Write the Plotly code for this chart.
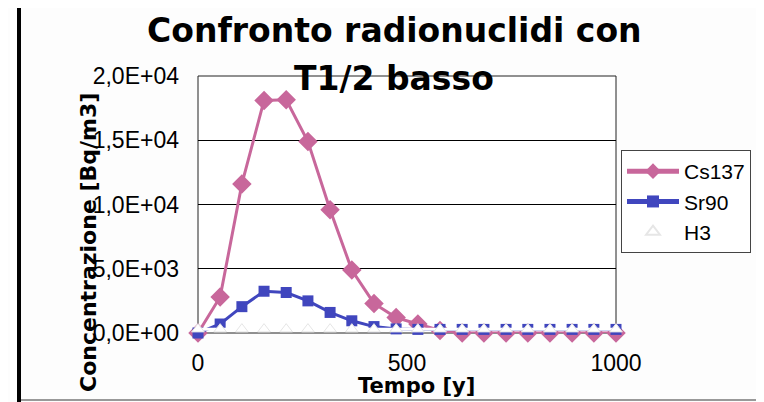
import plotly.graph_objects as go

# ---- data ----
years = [0, 53, 105, 158, 211, 263, 316, 368, 421, 474, 526, 579, 632, 684, 737, 789, 842, 895, 947, 1000]
cs137 = [0, 2800, 11600, 18100, 18150, 14900, 9600, 4900, 2300, 1200, 700, 200, 0, 0, 0, 0, 0, 0, 0, 0]
sr90 = [0, 700, 2050, 3250, 3150, 2500, 1600, 950, 500, 320, 280, 280, 280, 280, 280, 280, 280, 280, 280, 280]
h3 = [300] * 20
y_tickvals = [0, 5000, 10000, 15000, 20000]
y_ticktext = ["0,0E+00", "5,0E+03", "1,0E+04", "1,5E+04", "2,0E+04"]
x_tickvals = [0, 500, 1000]
x_ticktext = ["0", "500", "1000"]

# page has an 8px body margin: design in reference pixel coords, shift by -8
O = 8
W, H = 764 - O, 402 - O
PL, PR, PT, PB = 198, 616, 76, 333      # plot area in reference pixels
L, T = PL - O, PT - O
R = W - (PR - O)
B = H - (PB - O)
pw, ph = PR - PL, PB - PT

def px(xp):
    return (xp - PL) / pw

def py(yp):
    return (PB - yp) / ph

fig = go.Figure()
fig.add_trace(go.Scatter(x=years, y=cs137, name="Cs137", mode="lines+markers",
                         line=dict(color="#C8679B", width=3),
                         marker=dict(symbol="diamond", size=15, color="#C8679B"),
                         cliponaxis=False))
fig.add_trace(go.Scatter(x=years, y=sr90, name="Sr90", mode="lines+markers",
                         line=dict(color="#4046BE", width=3),
                         marker=dict(symbol="square", size=11, color="#4046BE"),
                         cliponaxis=False))
fig.add_trace(go.Scatter(x=years, y=h3, name="H3", mode="lines+markers",
                         line=dict(color="#FFFFFF", width=3),
                         marker=dict(symbol="triangle-up", size=11, color="#FFFFFF",
                                     line=dict(color="#E6E6E6", width=1)),
                         cliponaxis=False))

tick_font = dict(family="Liberation Sans", size=23, color="#000")
fig.update_layout(
    width=W, height=H,
    margin=dict(l=L, r=R, t=T, b=B),
    paper_bgcolor="#FDFDFD", plot_bgcolor="#FFFFFF",
    showlegend=True,
    legend=dict(x=px(621), y=py(150), xanchor="left", yanchor="top",
                bordercolor="#444", borderwidth=1, bgcolor="#FFFFFF",
                font=dict(family="Liberation Sans", size=21, color="#000"),
                tracegroupgap=0, itemwidth=52, itemsizing="constant"),
    xaxis=dict(range=[0, 1000], tickvals=x_tickvals, ticktext=x_ticktext,
               showgrid=False, zeroline=False, showline=False, ticks="",
               tickfont=tick_font, ticklabelstandoff=14),
    yaxis=dict(range=[0, 20000], tickvals=y_tickvals, ticktext=y_ticktext,
               showgrid=True, gridcolor="#000", gridwidth=1, zeroline=False,
               showline=False, ticks="", tickfont=tick_font, ticklabelstandoff=18),
    shapes=[
        dict(type="rect", xref="paper", yref="paper", x0=0, x1=1, y0=0, y1=1,
             line=dict(color="#222", width=1), layer="below"),
        dict(type="rect", xref="paper", yref="paper", x0=px(17), x1=px(21),
             y0=py(402), y1=py(0), fillcolor="#000", line=dict(width=0)),
        dict(type="line", xref="paper", yref="paper", x0=px(21), x1=px(764),
             y0=py(400), y1=py(400), line=dict(color="#999", width=2)),
    ],
    annotations=[
        dict(text="<b>Confronto radionuclidi con</b>", xref="paper", yref="paper",
             x=px(394), y=py(31), xanchor="center", yanchor="middle", showarrow=False,
             font=dict(family="DejaVu Sans", size=33, color="#000")),
        dict(text="<b>T1/2 basso</b>", xref="paper", yref="paper",
             x=px(394), y=py(78), xanchor="center", yanchor="middle", showarrow=False,
             font=dict(family="DejaVu Sans", size=33, color="#000")),
        dict(text="<b>Concentrazione [Bq/m3]</b>", xref="paper", yref="paper",
             x=px(88), y=py(243), xanchor="center", yanchor="middle", showarrow=False,
             textangle=-90, font=dict(family="DejaVu Sans", size=22, color="#000")),
        dict(text="<b>Tempo [y]</b>", xref="paper", yref="paper",
             x=px(416), y=py(386), xanchor="center", yanchor="middle", showarrow=False,
             font=dict(family="DejaVu Sans", size=21, color="#000")),
    ],
)

fig.write_html("out.html")
